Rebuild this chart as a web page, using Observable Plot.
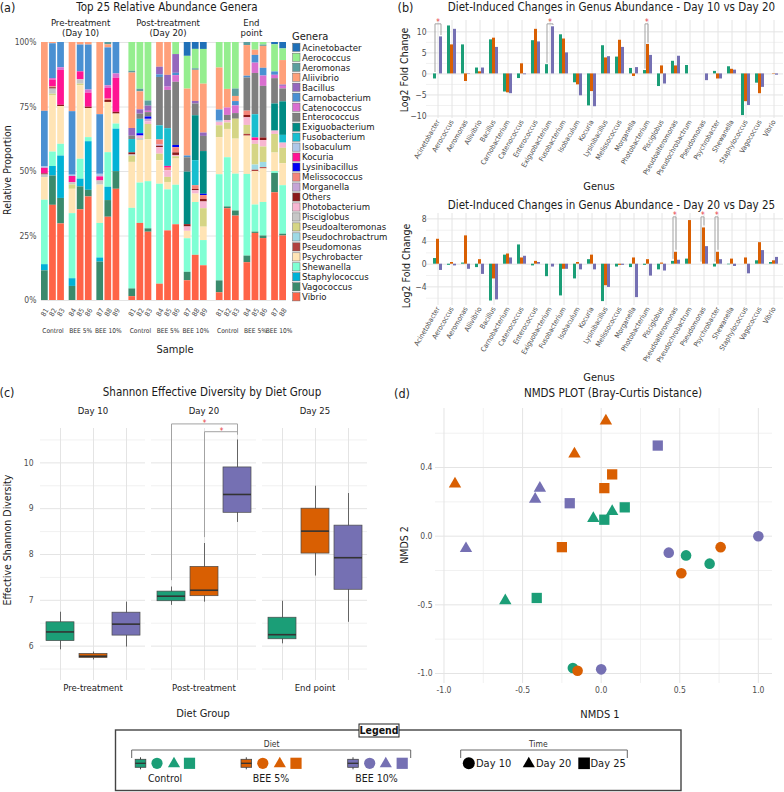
<!DOCTYPE html>
<html>
<head>
<meta charset="utf-8">
<script src="https://cdn.jsdelivr.net/npm/d3@7"></script>
<script src="https://cdn.jsdelivr.net/npm/@observablehq/plot@0.6"></script>
<style>
  body { margin: 0; background: #fff; }
  #fig { position: relative; width: 784px; height: 792px; overflow: hidden; background: #fff;
         font-family: "DejaVu Sans Condensed", "Liberation Sans", sans-serif; }
  #fig svg { position: absolute; overflow: visible; }
</style>
</head>
<body>
<div id="fig"></div>
<script>
const FONT = '"DejaVu Sans Condensed", "Liberation Sans", sans-serif';

// ---------- shared categories ----------
const diets = ["Control", "BEE 5%", "BEE 10%"];
const dietColors = ["#1B9E77", "#D95F02", "#7570B3"];
const phases = ["Pre-treatment", "Post-treatment", "End point"];
const phaseDays = ["Day 10", "Day 20", "Day 25"];
const facetLine1 = ["Pre-treatment", "Post-treatment", "End"];
const facetLine2 = ["(Day 10)", "(Day 20)", "point"];

// ---------- (a) relative abundance ----------
const genera = ["Acinetobacter","Aerococcus","Aeromonas","Aliivibrio","Bacillus","Carnobacterium",
  "Catenococcus","Enterococcus","Exiguobacterium","Fusobacterium","Isobaculum","Kocuria",
  "Lysinibacillus","Melissococcus","Morganella","Others","Photobacterium","Pisciglobus",
  "Pseudoalteromonas","Pseudochrobactrum","Pseudomonas","Psychrobacter","Shewanella",
  "Staphylococcus","Vagococcus","Vibrio"];
const generaColors = ["#1F70B8","#95EE8F","#5C9E9E","#FFA07A","#9467BD","#4A90D2",
  "#DA6FD0","#7F7F7F","#008B84","#17BECF","#AFC7E8","#FF1493",
  "#0000F5","#F4857A","#C5A5D6","#8B1A1A","#F7B6D2","#C7C7C7",
  "#D5D585","#9ED9E5","#B0413E","#FFE4B5","#7FFFD4",
  "#00B2D6","#3A8A6C","#FF6347"];

const day10Bars = [
  {sample: "81", diet: "Control", parts: {Vagococcus: 11.5, Staphylococcus: 2.4, Shewanella: 25, Psychrobacter: 8.8, Pisciglobus: 1, Others: 0.4, Kocuria: 2.2, Isobaculum: 0.5, Carnobacterium: 21.6, Aliivibrio: 26.7}},
  {sample: "82", diet: "Control", parts: {Vibrio: 37, Vagococcus: 11.4, Staphylococcus: 3.7, Shewanella: 5.6, Psychrobacter: 21.8, Pseudoalteromonas: 0.7, Pisciglobus: 2, Others: 0.5, Melissococcus: 0.4, Kocuria: 2.6, Catenococcus: 0.6, Carnobacterium: 13.5, Aliivibrio: 0.5}},
  {sample: "83", diet: "Control", parts: {Vibrio: 30, Vagococcus: 10, Staphylococcus: 16.6, Shewanella: 4.6, Psychrobacter: 14.8, Others: 0.5, Kocuria: 13.7, Catenococcus: 1, Carnobacterium: 9.9}},
  {sample: "84", diet: "BEE 5%", parts: {Vagococcus: 5.5, Staphylococcus: 3, Shewanella: 25.4, Psychrobacter: 9.5, Pseudoalteromonas: 1.7, Pisciglobus: 0.9, Kocuria: 2.4, Isobaculum: 0.5, Carnobacterium: 24.8, Aliivibrio: 27}},
  {sample: "85", diet: "BEE 5%", parts: {Vibrio: 35.5, Vagococcus: 9, Staphylococcus: 3, Shewanella: 7.8, Psychrobacter: 28.8, Pseudoalteromonas: 0.6, Pisciglobus: 1.7, Kocuria: 3.1, Carnobacterium: 10.5, Aliivibrio: 1}},
  {sample: "86", diet: "BEE 5%", parts: {Vibrio: 40.5, Vagococcus: 2.6, Staphylococcus: 19, Shewanella: 1.6, Psychrobacter: 11.4, Others: 0.5, Kocuria: 5.5, Catenococcus: 1.2, Carnobacterium: 17.6, Aliivibrio: 1}},
  {sample: "87", diet: "BEE 10%", parts: {Vagococcus: 15, Staphylococcus: 1.6, Shewanella: 13.5, Psychrobacter: 15, Pisciglobus: 1.6, Kocuria: 1.6, Isobaculum: 1, Carnobacterium: 23.3, Aliivibrio: 28.2}},
  {sample: "88", diet: "BEE 10%", parts: {Vibrio: 32.5, Vagococcus: 6.5, Staphylococcus: 5.2, Shewanella: 13.5, Psychrobacter: 19.6, Others: 0.8, Melissococcus: 0.5, Kocuria: 4.2, Catenococcus: 1, Carnobacterium: 14.8, Aliivibrio: 1.2, Aeromonas: 0.9}},
  {sample: "89", diet: "BEE 10%", parts: {Vibrio: 43.5, Vagococcus: 6.9, Staphylococcus: 16.6, Shewanella: 2, Psychrobacter: 3.9, Others: 0.7, Kocuria: 13.3, Catenococcus: 1.7, Carnobacterium: 12.3}}
];
const day20Bars = [
  {sample: "81", diet: "Control", parts: {Vibrio: 1.5, Vagococcus: 3, Shewanella: 31.4, Psychrobacter: 17.9, Pseudoalteromonas: 2.4, Pisciglobus: 0.5, Others: 0.8, Enterococcus: 1.3, Fusobacterium: 5.2, Aeromonas: 0.7, Bacillus: 3, Aliivibrio: 21.6, Aerococcus: 11.2}},
  {sample: "82", diet: "Control", parts: {Vibrio: 30, Shewanella: 15.7, Psychrobacter: 16.6, Photobacterium: 1, Pisciglobus: 0.7, Lysinibacillus: 0.9, Fusobacterium: 5.6, Enterococcus: 2, Bacillus: 1.7, Aliivibrio: 7, Aeromonas: 1, Aerococcus: 18.2}},
  {sample: "83", diet: "Control", parts: {Vibrio: 26.5, Vagococcus: 1.3, Shewanella: 18.3, Psychrobacter: 16.3, Pseudoalteromonas: 5.9, Photobacterium: 1, Morganella: 1, Lysinibacillus: 0.9, Enterococcus: 1.7, Catenococcus: 0.5, Bacillus: 2, Aeromonas: 2, Aerococcus: 22.7}},
  {sample: "84", diet: "BEE 5%", parts: {Vibrio: 6.4, Shewanella: 39.2, Psychrobacter: 9.2, Pseudoalteromonas: 2.6, Photobacterium: 2.6, Others: 0.5, Morganella: 0.5, Melissococcus: 2, Fusobacterium: 5.5, Enterococcus: 19, Carnobacterium: 1, Bacillus: 3, Aliivibrio: 9.7}},
  {sample: "85", diet: "BEE 5%", parts: {Vibrio: 27.3, Shewanella: 16.1, Psychrobacter: 2.9, Pseudoalteromonas: 2, Photobacterium: 2.6, Melissococcus: 1, Kocuria: 0.7, Fusobacterium: 14.8, Enterococcus: 15, Catenococcus: 1.3, Bacillus: 4.6, Aliivibrio: 12.9}},
  {sample: "86", diet: "BEE 5%", parts: {Vibrio: 29.5, Shewanella: 15.4, Psychrobacter: 10.2, Pseudoalteromonas: 0.9, Photobacterium: 0.5, Others: 1, Melissococcus: 2, Lysinibacillus: 0.9, Enterococcus: 24.6, Catenococcus: 2.6, Carnobacterium: 0.9, Bacillus: 7.3, Aerococcus: 4.7}},
  {sample: "87", diet: "BEE 10%", parts: {Vibrio: 7.7, Vagococcus: 3.3, Shewanella: 13.1, Psychrobacter: 2.9, Photobacterium: 1.7, Others: 0.9, Exiguobacterium: 20.5, Enterococcus: 5.6, Carnobacterium: 0.7, Aliivibrio: 26.1, Aerococcus: 12.8, Acinetobacter: 5.4}},
  {sample: "88", diet: "BEE 10%", parts: {Vibrio: 17.7, Shewanella: 20.7, Psychrobacter: 3.3, Photobacterium: 1.3, Others: 0.5, Melissococcus: 1.5, Fusobacterium: 9.8, Exiguobacterium: 17.6, Enterococcus: 4.6, Bacillus: 1, Aliivibrio: 12.2, Aeromonas: 0.6, Aerococcus: 7.6, Acinetobacter: 2.7}},
  {sample: "89", diet: "BEE 10%", parts: {Vibrio: 13.5, Shewanella: 9.8, Psychrobacter: 5.2, Pseudoalteromonas: 7.2, Photobacterium: 2.6, Others: 1, Melissococcus: 1.5, Lysinibacillus: 0.5, Exiguobacterium: 16.6, Enterococcus: 5.9, Bacillus: 1.3, Aliivibrio: 19, Aerococcus: 13.5, Acinetobacter: 2.7}}
];
const day25Bars = [
  {sample: "81", diet: "Control", parts: {Vibrio: 3, Vagococcus: 4.6, Shewanella: 41.2, Psychrobacter: 14.4, Pseudoalteromonas: 4.6, Photobacterium: 1.3, Isobaculum: 0.5, Carnobacterium: 4.3, Aliivibrio: 16.3, Aerococcus: 9.9}},
  {sample: "82", diet: "Control", parts: {Vibrio: 36, Vagococcus: 0.7, Shewanella: 19.3, Psychrobacter: 11.1, Pseudoalteromonas: 2.5, Photobacterium: 1, Enterococcus: 2, Catenococcus: 2.9, Aliivibrio: 7.3, Aerococcus: 18.4}},
  {sample: "83", diet: "Control", parts: {Vibrio: 33, Vagococcus: 2, Shewanella: 14.4, Psychrobacter: 13.7, Pseudoalteromonas: 7.8, Enterococcus: 2.2, Catenococcus: 3, Carnobacterium: 1.7, Aliivibrio: 2, Aeromonas: 2.9, Aerococcus: 18.2}},
  {sample: "84", diet: "BEE 5%", parts: {Vibrio: 14.8, Vagococcus: 2.6, Shewanella: 32, Psychrobacter: 15, Pseudomonas: 0.7, Pseudoalteromonas: 3.5, Photobacterium: 3, Others: 0.9, Melissococcus: 1.7, Enterococcus: 13, Carnobacterium: 0.7, Aliivibrio: 12, Aeromonas: 1.2}},
  {sample: "85", diet: "BEE 5%", parts: {Vibrio: 26, Vagococcus: 0.5, Shewanella: 10.5, Psychrobacter: 13, Pseudomonas: 0.5, Pseudochrobactrum: 2, Pseudoalteromonas: 8, Photobacterium: 1.5, Kocuria: 1, Fusobacterium: 9, Enterococcus: 16, Catenococcus: 4, Carnobacterium: 3, Aliivibrio: 2, Aerococcus: 3}},
  {sample: "86", diet: "BEE 5%", parts: {Vibrio: 24, Vagococcus: 1, Shewanella: 13, Psychrobacter: 13, Pseudomonas: 0.5, Pseudochrobactrum: 2, Pseudoalteromonas: 6, Photobacterium: 2.5, Others: 1, Enterococcus: 20, Catenococcus: 4, Carnobacterium: 3, Aliivibrio: 8.5, Aeromonas: 0.5, Aerococcus: 1}},
  {sample: "87", diet: "BEE 10%", parts: {Vibrio: 41.7, Vagococcus: 7.5, Shewanella: 0.7, Psychrobacter: 7.2, Pseudoalteromonas: 7.2, Photobacterium: 1.3, Exiguobacterium: 10.5, Enterococcus: 9.8, Catenococcus: 1.3, Carnobacterium: 1.3, Aerococcus: 10.5, Acinetobacter: 0.9}},
  {sample: "88", diet: "BEE 10%", parts: {Vibrio: 25, Vagococcus: 0.7, Shewanella: 18.8, Psychrobacter: 8.5, Pseudoalteromonas: 6, Photobacterium: 2, Fusobacterium: 3, Exiguobacterium: 13, Enterococcus: 5, Catenococcus: 1, Bacillus: 0.5, Aliivibrio: 9.5, Aerococcus: 4.5, Acinetobacter: 2.5}}
];
const abundanceTicks = [0, 0.25, 0.5, 0.75, 1];

// ---------- (b) log2 fold changes ----------
const foldGenera = ["Acinetobacter","Aerococcus","Aeromonas","Aliivibrio","Bacillus","Carnobacterium",
  "Catenococcus","Enterococcus","Exiguobacterium","Fusobacterium","Isobaculum","Kocuria",
  "Lysinibacillus","Melissococcus","Morganella","Photobacterium","Pisciglobus","Pseudoalteromonas",
  "Pseudochrobactrum","Pseudomonas","Psychrobacter","Shewanella","Staphylococcus","Vagococcus","Vibrio"];
const lfc1020Control = [-1.2, 11.4, 6.9, 1.4, 8.1, -4.3, -1.1, 7.9, 2.2, 9.3, -2.1, -7.6, 6.7, 4.0, 1.3, 0.8, -3.0, 3.0, 2.0, 0, 0.6, 1.7, -9.9, -2.2, 0];
const lfc1020Bee5    = [0, 6.9, -1.8, 0.5, 8.5, -4.5, 2.4, 10.6, 0, 8.3, -2.6, -4.2, 3.8, 8.0, -0.6, 7.0, 1.9, 1.9, 0, 0, -1.2, 1.1, -6.6, -4.7, -0.1];
const lfc1020Bee10   = [8.8, 10.6, 0.1, 1.4, 6.3, -4.7, -0.2, 7.6, 11.2, 5.0, -5.2, -7.8, 4.1, 6.3, 1.5, 4.4, -2.4, 4.2, 0, -1.6, -1.2, 0.9, -7.5, -3.2, -0.3];
const lfc2025Control = [1.0, -0.2, 0.2, -0.6, -6.5, 1.6, 3.4, -0.3, -2.2, -5.6, -2.6, 0.8, -6.6, -0.5, -0.6, -0.2, -1.0, 0.5, 0.9, 0, -0.5, -0.1, 0, 0.6, 0.3];
const lfc2025Bee5    = [4.4, 0.3, 5.0, 0.8, -2.6, 1.8, 1.1, 0.5, 0, -0.9, 0.3, 1.6, -3.8, -0.2, 1.1, 0.8, 0.2, 2.1, 7.7, 6.4, 2.1, 0.9, 1.1, 3.8, 0.6];
const lfc2025Bee10   = [-1.1, -0.3, -0.9, -1.8, -6.3, 1.1, 1.4, 0.3, -0.5, -0.9, -1.0, -1.0, -4.1, -0.2, -5.9, -2.1, -1.2, 0.7, 0, 3.1, 0.8, -0.4, -1.7, 2.4, 1.2];
const sig1020 = [
  {genus: "Acinetobacter", from: "Control", to: "BEE 10%"},
  {genus: "Exiguobacterium", from: "Control", to: "BEE 10%"},
  {genus: "Photobacterium", from: "Control", to: "BEE 5%"}
];
const sig2025 = [
  {genus: "Pseudoalteromonas", from: "Control", to: "BEE 5%"},
  {genus: "Pseudomonas", from: "Control", to: "BEE 5%"},
  {genus: "Psychrobacter", from: "Control", to: "BEE 5%"}
];

// ---------- (c) Shannon effective diversity (box summaries, phase x diet) ----------
const shannonPhase = ["Pre-treatment","Pre-treatment","Pre-treatment","Post-treatment","Post-treatment","Post-treatment","End point","End point","End point"];
const shannonDiet  = ["Control","BEE 5%","BEE 10%","Control","BEE 5%","BEE 10%","Control","BEE 5%","BEE 10%"];
const shannonLow    = [5.92, 5.70, 5.98, 6.89, 6.96, 8.70, 6.05, 7.53, 6.52];
const shannonQ1     = [6.11, 5.74, 6.23, 6.98, 7.09, 8.91, 6.15, 8.02, 7.23];
const shannonMedian = [6.31, 5.78, 6.48, 7.09, 7.22, 9.31, 6.25, 8.51, 7.93];
const shannonQ3     = [6.52, 5.83, 6.73, 7.19, 7.73, 9.90, 6.62, 9.00, 8.63];
const shannonHigh   = [6.74, 5.87, 6.96, 7.29, 8.24, 10.50, 6.98, 9.49, 9.33];
const shannonTicks = [6, 7, 8, 9, 10];
const shannonSig = [
  {phase: "Post-treatment", from: "Control", to: "BEE 10%", top: 10.85, legFrom: 7.44, legTo: 10.62, star: "BEE 5%"},
  {phase: "Post-treatment", from: "BEE 5%", to: "BEE 10%", top: 10.68, legFrom: 8.38, legTo: 10.62, star: "BEE 5%"}
];

// ---------- (d) NMDS ordination ----------
const nmdsDiet = ["Control","Control","Control","Control","Control","Control","Control","Control","Control",
  "BEE 5%","BEE 5%","BEE 5%","BEE 5%","BEE 5%","BEE 5%","BEE 5%","BEE 5%","BEE 5%",
  "BEE 10%","BEE 10%","BEE 10%","BEE 10%","BEE 10%","BEE 10%","BEE 10%","BEE 10%"];
const nmdsDay = ["Day 10","Day 10","Day 10","Day 20","Day 20","Day 20","Day 25","Day 25","Day 25",
  "Day 10","Day 10","Day 10","Day 20","Day 20","Day 20","Day 25","Day 25","Day 25",
  "Day 10","Day 10","Day 10","Day 20","Day 20","Day 20","Day 25","Day 25"];
const nmds1 = [0.54, 0.69, -0.18, -0.05, 0.07, -0.61, 0.02, 0.15, -0.41,
  0.76, 0.51, -0.15, -0.93, -0.17, 0.03, 0.07, 0.02, -0.25,
  1.00, 0.43, 0.00, -0.39, -0.42, -0.86, 0.36, -0.20];
const nmds2 = [-0.14, -0.20, -0.96, 0.13, 0.18, -0.47, 0.12, 0.21, -0.45,
  -0.08, -0.27, -0.98, 0.38, 0.60, 0.84, 0.45, 0.35, -0.08,
  0.00, -0.12, -0.97, 0.35, 0.27, -0.09, 0.66, 0.24];
const nmdsXTicks = [-1, -0.5, 0, 0.5, 1];
const nmdsYTicks = [-1, -0.5, 0, 0.5];
const nmdsYTickLabels = ["-1.0", "-0.5", "0.0", "0.4"];

// ================= helpers =================
const fig = document.getElementById("fig");
function place(node, left, top) {
  node.style.left = left + "px";
  node.style.top = top + "px";
  fig.appendChild(node);
}
function label(text, x, y, o = {}) {
  const el = document.createElement("div");
  el.textContent = text;
  const anchor = o.anchor || "middle";
  const tx = anchor === "start" ? "0" : anchor === "end" ? "-100%" : "-50%";
  Object.assign(el.style, {
    position: "absolute", left: x + "px", top: y + "px", whiteSpace: "nowrap", lineHeight: "1",
    transform: `translate(${tx},-50%)` + (o.rotate ? ` rotate(${o.rotate}deg)` : ""),
    fontSize: (o.size || 11) + "px", color: o.color || "#1a1a1a", fontWeight: o.weight || "normal"
  });
  fig.appendChild(el);
}
const tickFill = "#4d4d4d";
const gridMajor = "#e4e4e4";
const gridMinor = "#f1f1f1";

// ================= (a) stacked relative abundance =================
const GROUP_GAP = 0.42, FACET_GAP = 0.96, BAR_W = 0.83;
const barInfo = [], groupInfo = [], facetInfo = [];
{
  let pos = 0;
  [day10Bars, day20Bars, day25Bars].forEach((bars, f) => {
    const start = pos;
    diets.forEach((diet, g) => {
      const gs = pos;
      bars.filter(b => b.diet === diet).forEach(b => { barInfo.push({...b, slot: pos}); pos += 1; });
      groupInfo.push({diet, mid: (gs + pos - 1 + BAR_W) / 2});
      if (g < diets.length - 1) pos += GROUP_GAP;
    });
    facetInfo.push({line1: facetLine1[f], line2: facetLine2[f], mid: (start + pos - 1 + BAR_W) / 2});
    pos += FACET_GAP;
  });
}
const abundanceRows = barInfo.flatMap(b =>
  genera.filter(g => b.parts[g]).map(g => ({sample: b.sample, slot: b.slot, genus: g, value: b.parts[g]})));
const xMax = d3.max(barInfo, b => b.slot) + BAR_W;
const stackOrder = genera.slice().reverse();

const plotA = Plot.plot({
  width: 290, height: 360, marginLeft: 41, marginRight: 4, marginTop: 42, marginBottom: 60,
  style: {fontFamily: FONT, background: "transparent"},
  x: {domain: [0, xMax], axis: null},
  y: {domain: [0, 1]},
  color: {domain: genera, range: generaColors},
  marks: [
    Plot.ruleY(abundanceTicks, {stroke: gridMajor}),
    Plot.rect(abundanceRows, Plot.stackY({
      x: "slot", x1: "slot", x2: d => d.slot + BAR_W, y: "value", z: "genus", fill: "genus",
      order: stackOrder, offset: "normalize"
    })),
    Plot.axisY({ticks: abundanceTicks, tickFormat: d3.format(".0%"), tickSize: 0, tickPadding: 5,
      fontSize: 8.5, fill: tickFill, label: null}),
    Plot.text(barInfo, {x: d => d.slot + BAR_W / 2, frameAnchor: "bottom", lineAnchor: "middle",
      textAnchor: "middle", dy: 12, text: "sample", rotate: -60, fontSize: 7, fill: tickFill}),
    Plot.text(groupInfo, {x: "mid", frameAnchor: "bottom", lineAnchor: "middle", dy: 30,
      text: "diet", fontSize: 6.6, fill: "#333"}),
    Plot.text(facetInfo, {x: "mid", frameAnchor: "top", lineAnchor: "middle", dy: -20,
      text: "line1", fontSize: 9.5, fill: "#1a1a1a"}),
    Plot.text(facetInfo, {x: "mid", frameAnchor: "top", lineAnchor: "middle", dy: -9.5,
      text: "line2", fontSize: 9.5, fill: "#1a1a1a"})
  ]
});
place(plotA, 0, 0);

// genera legend
{
  const svg = d3.create("svg").attr("width", 100).attr("height", 280)
    .style("font-family", FONT);
  svg.append("text").attr("x", 4).attr("y", 8).attr("dy", "0.35em")
    .attr("font-size", 11).attr("fill", "#1a1a1a").text("Genera");
  const item = svg.selectAll("g").data(genera).join("g")
    .attr("transform", (d, i) => `translate(0,${19.3 + i * 9.98})`);
  item.append("rect").attr("x", 4.7).attr("y", -4.1).attr("width", 7.3).attr("height", 8.2)
    .attr("fill", (d, i) => generaColors[i]).attr("stroke", "#666").attr("stroke-width", 0.5);
  item.append("text").attr("x", 14).attr("dy", "0.35em").attr("font-size", 9.5)
    .attr("fill", "#1a1a1a").text(d => d);
  place(svg.node(), 288, 28);
}

// ================= (b) fold-change bars =================
function foldRows(control, bee5, bee10) {
  return foldGenera.flatMap((genus, i) => [
    {genus, diet: "Control", lfc: control[i]},
    {genus, diet: "BEE 5%", lfc: bee5[i]},
    {genus, diet: "BEE 10%", lfc: bee10[i]}
  ]);
}
function foldChart(rows, sig, cfg) {
  const value = (g, d) => rows.find(r => r.genus === g && r.diet === d).lfc;
  const legs = sig.flatMap(s => [
    {genus: s.genus, x1: s.from, x2: s.from, y1: cfg.sigTop, y2: Math.max(value(s.genus, s.from), 0) + 0.45},
    {genus: s.genus, x1: s.from, x2: s.to, y1: cfg.sigTop, y2: cfg.sigTop},
    {genus: s.genus, x1: s.to, x2: s.to, y1: cfg.sigTop, y2: Math.max(value(s.genus, s.to), 0) + 0.45}
  ]);
  const mL = 39, mR = 1, fxPad = 0.2;
  const W = 394 - mL - mR;
  const fxStep = W / (foldGenera.length - fxPad);
  const barStep = fxStep * (1 - fxPad) / diets.length;
  const wide = sig.filter(s => s.to === "BEE 10%");
  const narrow = sig.filter(s => s.to !== "BEE 10%");
  const common = {
    width: 394, height: cfg.height, marginTop: cfg.mt, marginBottom: cfg.mb,
    style: {fontFamily: FONT, background: "transparent"}
  };
  // continuous horizontal grid behind the genus facets
  const grid = Plot.plot({
    ...common, marginLeft: 36, marginRight: 1,
    x: {domain: [0, 1], axis: null},
    y: {domain: cfg.yDomain, axis: null},
    marks: [
      Plot.ruleY(cfg.minor, {stroke: gridMinor}),
      Plot.ruleY(cfg.major, {stroke: gridMajor})
    ]
  });
  const bars = Plot.plot({
    ...common, marginLeft: mL, marginRight: mR,
    fx: {domain: foldGenera, padding: fxPad},
    x: {domain: diets, padding: 0, axis: null},
    y: {domain: cfg.yDomain},
    color: {domain: diets, range: dietColors},
    marks: [
      Plot.gridFx({stroke: gridMajor, strokeOpacity: 1}),
      Plot.barY(rows, {fx: "genus", x: "diet", y: "lfc", fill: "diet"}),
      Plot.link(legs, {fx: "genus", x1: "x1", x2: "x2", y1: "y1", y2: "y2", stroke: "#a3a3a3", strokeWidth: 1}),
      Plot.text(wide, {fx: "genus", x: () => "BEE 5%", y: () => cfg.starY, text: () => "*",
        fill: "#e8383d", fontSize: 8}),
      Plot.text(narrow, {fx: "genus", x: "from", y: () => cfg.starY, text: () => "*",
        fill: "#e8383d", fontSize: 8, dx: barStep / 2}),
      Plot.axisY({ticks: cfg.major, tickSize: 0, tickPadding: 6, fontSize: 8.5, fill: tickFill, label: null}),
      Plot.axisFx({anchor: "bottom", tickRotate: -60, tickSize: 0, tickPadding: 2, fontSize: 7,
        fill: tickFill, label: null})
    ]
  });
  return [grid, bars];
}
const [gridB1, plotB1] = foldChart(foldRows(lfc1020Control, lfc1020Bee5, lfc1020Bee10), sig1020, {
  height: 190, mt: 20, mb: 72, yDomain: [-10.6, 12.7],
  major: [-10, -5, 0, 5, 10], minor: [-7.5, -2.5, 2.5, 7.5], sigTop: 11.9, starY: 12.3
});
place(gridB1, 390, 0);
place(plotB1, 390, 0);
const [gridB2, plotB2] = foldChart(foldRows(lfc2025Control, lfc2025Bee5, lfc2025Bee10), sig2025, {
  height: 200, mt: 23, mb: 85, yDomain: [-7.29, 8.95],
  major: [-4, 0, 4, 8], minor: [-6, -2, 2, 6], sigTop: 8.35, starY: 8.6
});
place(gridB2, 390, 190);
place(plotB2, 390, 190);

// ================= (c) Shannon boxes =================
const boxStats = shannonPhase.map((phase, i) => ({
  phase, diet: shannonDiet[i], lo: shannonLow[i], q1: shannonQ1[i], med: shannonMedian[i],
  q3: shannonQ3[i], hi: shannonHigh[i]
}));
const shannonLegs = shannonSig.flatMap(s => [
  {phase: s.phase, x1: s.from, x2: s.from, y1: s.top, y2: s.legFrom},
  {phase: s.phase, x1: s.from, x2: s.to, y1: s.top, y2: s.top},
  {phase: s.phase, x1: s.to, x2: s.to, y1: s.top, y2: s.legTo}
]);
const plotC = Plot.plot({
  width: 390, height: 330, marginLeft: 39, marginRight: 22, marginTop: 33, marginBottom: 45,
  style: {fontFamily: FONT, background: "transparent"},
  fx: {domain: phases, padding: 0.057},
  x: {domain: diets, padding: 0.16, axis: null},
  y: {domain: [5.25, 10.75]},
  color: {domain: diets, range: dietColors},
  marks: [
    Plot.gridY({ticks: [5.5, 6.5, 7.5, 8.5, 9.5, 10.5], stroke: gridMinor, strokeOpacity: 1}),
    Plot.gridY({ticks: shannonTicks, stroke: gridMajor, strokeOpacity: 1}),
    Plot.gridX({stroke: gridMajor, strokeOpacity: 1}),
    Plot.ruleX(boxStats, {fx: "phase", x: "diet", y1: "lo", y2: "hi", stroke: "#555", strokeWidth: 0.9}),
    Plot.barY(boxStats, {fx: "phase", x: "diet", y1: "q1", y2: "q3", fill: "diet", stroke: "#4a4a4a", strokeWidth: 0.7}),
    Plot.tickY(boxStats, {fx: "phase", x: "diet", y: "med", stroke: "#333", strokeWidth: 1.6}),
    Plot.link(shannonLegs, {fx: "phase", x1: "x1", x2: "x2", y1: "y1", y2: "y2", stroke: "#a3a3a3", strokeWidth: 1}),
    Plot.text(shannonSig.slice(0, 1), {fx: "phase", x: "star", y: "top", text: () => "*",
      fill: "#e8383d", fontSize: 8}),
    Plot.text(shannonSig.slice(1), {fx: "phase", x: "star", y: "top", text: () => "*",
      fill: "#e8383d", fontSize: 8, dx: 17}),
    Plot.axisY({ticks: shannonTicks, tickFormat: d => String(d), tickSize: 0, tickPadding: 7,
      fontSize: 8.5, fill: tickFill, label: null}),
    Plot.axisFx({anchor: "top", tickSize: 0, tickPadding: 15, fontSize: 9.5, fill: "#1a1a1a", label: null,
      tickFormat: p => phaseDays[phases.indexOf(p)]}),
    Plot.axisFx({anchor: "bottom", tickSize: 0, tickPadding: 4, fontSize: 9.5, fill: "#1a1a1a", label: null})
  ]
});
place(plotC, 0, 395);

// ================= (d) NMDS scatter =================
const nmdsPoints = nmds1.map((x, i) => ({x, y: nmds2[i], diet: nmdsDiet[i], day: nmdsDay[i]}));
const symbolOf = {"Day 10": "circle", "Day 20": "triangle", "Day 25": "square"};
const plotD = Plot.plot({
  width: 394, height: 330, marginLeft: 45, marginRight: 12, marginTop: 13, marginBottom: 42,
  style: {fontFamily: FONT, background: "transparent"},
  x: {domain: [-1.054, 1.09]},
  y: {domain: [-1.073, 0.93]},
  color: {domain: diets, range: dietColors},
  marks: [
    Plot.gridX({ticks: [-0.75, -0.25, 0.25, 0.75], stroke: gridMinor, strokeOpacity: 1}),
    Plot.gridY({ticks: [-0.75, -0.25, 0.25, 0.75], stroke: gridMinor, strokeOpacity: 1}),
    Plot.gridX({ticks: nmdsXTicks, stroke: gridMajor, strokeOpacity: 1}),
    Plot.gridY({ticks: nmdsYTicks, stroke: gridMajor, strokeOpacity: 1}),
    Plot.dot(nmdsPoints.filter(d => d.day === "Day 10"), {x: "x", y: "y", fill: "diet", symbol: () => symbolOf["Day 10"], r: 5.3}),
    Plot.dot(nmdsPoints.filter(d => d.day === "Day 20"), {x: "x", y: "y", fill: "diet", symbol: () => symbolOf["Day 20"], r: 4.6}),
    Plot.dot(nmdsPoints.filter(d => d.day === "Day 25"), {x: "x", y: "y", fill: "diet", symbol: () => symbolOf["Day 25"], r: 5.8}),
    Plot.axisX({ticks: nmdsXTicks, tickFormat: v => v.toFixed(1), tickSize: 0, tickPadding: 3,
      fontSize: 8.5, fill: tickFill, label: null}),
    Plot.axisY({ticks: nmdsYTicks, tickFormat: v => nmdsYTickLabels[nmdsYTicks.indexOf(v)], tickSize: 0,
      tickPadding: 3, fontSize: 8.5, fill: tickFill, label: null})
  ]
});
place(plotD, 390, 395);

// ================= titles and axis titles =================
label("(a)", 7.5, 7.5, {size: 12.5});
label("Top 25 Relative Abundance Genera", 167, 7.5, {size: 11.5});
label("Relative Proportion", 7, 170, {size: 10.5, rotate: -90});
label("Sample", 175, 348.5, {size: 11});
label("(b)", 405.5, 7.5, {size: 12.5});
label("Diet-Induced Changes in Genus Abundance - Day 10 vs Day 20", 611.5, 7.5, {size: 11.5});
label("Log2 Fold Change", 404, 70, {size: 10.5, rotate: -90});
label("Genus", 599, 186, {size: 11});
label("Diet-Induced Changes in Genus Abundance - Day 20 vs Day 25", 611.5, 206, {size: 11.5});
label("Log2 Fold Change", 406, 266, {size: 10.5, rotate: -90});
label("Genus", 599, 377, {size: 11});
label("(c)", 7, 393, {size: 12.5});
label("Shannon Effective Diversity by Diet Group", 212, 393, {size: 11.5});
label("Effective Shannon Diversity", 7, 540, {size: 10.5, rotate: -90});
label("Diet Group", 203, 713, {size: 11});
label("(d)", 402, 394, {size: 12.5});
label("NMDS PLOT (Bray-Curtis Distance)", 613, 394, {size: 11.5});
label("NMDS 2", 404, 545, {size: 10.5, rotate: -90});
label("NMDS 1", 600, 714, {size: 11});

// ================= combined legend =================
{
  const svg = d3.create("svg").attr("width", 784).attr("height", 72).style("font-family", FONT);
  svg.append("rect").attr("x", 115.5).attr("y", 10).attr("width", 565.5).attr("height", 60.5)
    .attr("fill", "none").attr("stroke", "#444").attr("stroke-width", 1.4);
  svg.append("rect").attr("x", 359).attr("y", 4).attr("width", 40).attr("height", 13)
    .attr("fill", "#fff").attr("stroke", "#222").attr("stroke-width", 1);
  svg.append("text").attr("x", 379).attr("y", 10.5).attr("dy", "0.35em").attr("text-anchor", "middle")
    .attr("font-size", 10.5).attr("font-weight", "bold").attr("fill", "#111").text("Legend");

  const bracket = (x1, x2, title, tx) => {
    svg.append("path").attr("d", `M${x1},38V30H${x2}V38`).attr("fill", "none").attr("stroke", "#666");
    svg.append("text").attr("x", tx).attr("y", 24).attr("dy", "0.35em").attr("text-anchor", "middle")
      .attr("font-size", 8.5).attr("fill", "#333").text(title);
  };
  bracket(131.7, 410.7, "Diet", 271.7);
  bracket(460.7, 627.3, "Time", 538.3);

  const iconY = 43.3;
  const triangle = d3.symbol(d3.symbolTriangle, 64)();
  const dietX = [[140.5, 157, 174, 189.5, 165], [246.3, 262.8, 279.8, 296, 271], [353, 369.7, 385.8, 402.2, 376.5]];
  diets.forEach((diet, i) => {
    const [bx, cx, tx, sx, lx] = dietX[i];
    const col = dietColors[i];
    const g = svg.append("g");
    g.append("line").attr("x1", bx).attr("x2", bx).attr("y1", iconY - 6).attr("y2", iconY + 6)
      .attr("stroke", "#444").attr("stroke-width", 1);
    g.append("rect").attr("x", bx - 5.3).attr("y", iconY - 4).attr("width", 10.6).attr("height", 8)
      .attr("fill", col).attr("stroke", "#444").attr("stroke-width", 0.8);
    g.append("line").attr("x1", bx - 5.3).attr("x2", bx + 5.3).attr("y1", iconY).attr("y2", iconY)
      .attr("stroke", "#333").attr("stroke-width", 1.3);
    g.append("circle").attr("cx", cx).attr("cy", iconY).attr("r", 5.6).attr("fill", col);
    g.append("path").attr("d", triangle).attr("transform", `translate(${tx},${iconY + 0.5})`).attr("fill", col);
    g.append("rect").attr("x", sx - 5.6).attr("y", iconY - 5.6).attr("width", 11.2).attr("height", 11.2).attr("fill", col);
    svg.append("text").attr("x", lx).attr("y", 58).attr("dy", "0.35em").attr("text-anchor", "middle")
      .attr("font-size", 10.5).attr("fill", "#1a1a1a").text(diet);
  });
  // time symbols
  svg.append("circle").attr("cx", 468.8).attr("cy", iconY).attr("r", 6).attr("fill", "#000");
  svg.append("path").attr("d", triangle).attr("transform", `translate(528.8,${iconY + 0.5})`).attr("fill", "#000");
  svg.append("rect").attr("x", 578.3).attr("y", iconY - 5.8).attr("width", 11.6).attr("height", 11.6).attr("fill", "#000");
  [["Day 10", 476], ["Day 20", 536], ["Day 25", 590.5]].forEach(([t, x]) => {
    svg.append("text").attr("x", x).attr("y", iconY).attr("dy", "0.35em").attr("font-size", 11)
      .attr("fill", "#1a1a1a").text(t);
  });
  place(svg.node(), 0, 720);
}
</script>
</body>
</html>
